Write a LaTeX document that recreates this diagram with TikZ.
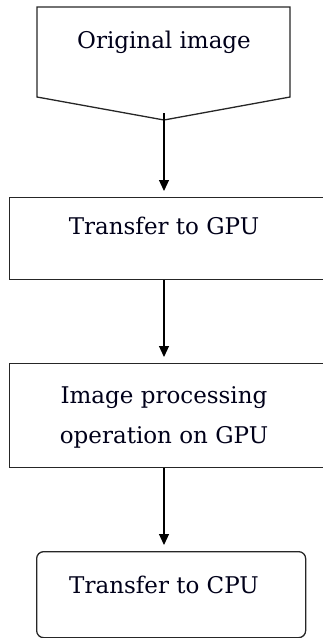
\documentclass[tikz,border=0pt]{standalone}
\usepackage{fontspec}
\setmainfont{DejaVu Serif}
\usetikzlibrary{arrows.meta}
\begin{document}
\begin{tikzpicture}[x=1pt,y=-1pt,
  boxline/.style={draw=black!85, line width=1.3pt},
  lbl/.style={font=\fontsize{23}{40}\selectfont, text=black!90!blue, inner sep=0pt, align=center},
  flow/.style={-{Triangle[length=11pt,width=10pt]}, line width=1.1pt, shorten >=6pt}
]
\useasboundingbox (0,0) rectangle (323,638);
\clip (0,0) rectangle (323,638);
% input shape (pentagon pointing down)
\coordinate (o1) at (37,7);
\coordinate (o2) at (290,7);
\coordinate (o3) at (290,97);
\coordinate (otip) at (164,120);
\coordinate (o5) at (37,97);
\draw[boxline, line join=miter] (o1) -- (o2) -- (o3) -- (otip) -- (o5) -- cycle;
\node[lbl] (t1) at (164,42) {Original image};
\coordinate (ostart) at (164,113);
% boxes
\node[boxline, rectangle, minimum width=321pt, minimum height=82pt, inner sep=0pt, anchor=north west] (gpu) at (9,197) {};
\node[lbl] (t2) at (164,226) {Transfer to GPU};
\node[boxline, rectangle, minimum width=321pt, minimum height=104pt, inner sep=0pt, anchor=north west] (proc) at (9,363) {};
\node[lbl] (t3) at (164,417) {Image processing\\operation on GPU};
\node[boxline, rectangle, rounded corners=7pt, minimum width=269pt, minimum height=86pt, inner sep=0pt, anchor=north west] (cpu) at (36,551) {};
\node[lbl] (t4) at (164,585) {Transfer to CPU};
% connectors
\draw[flow] (ostart) -- (ostart |- gpu.north);
\draw[flow] (ostart |- gpu.south) -- (ostart |- proc.north);
\draw[flow] (ostart |- proc.south) -- (ostart |- cpu.north);
\end{tikzpicture}
\end{document}
